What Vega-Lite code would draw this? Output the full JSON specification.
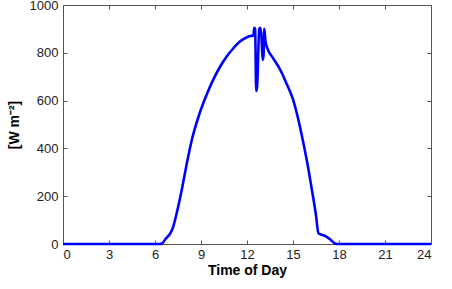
{
  "$schema": "https://vega.github.io/schema/vega-lite/v6.json",
  "width": 368,
  "height": 239,
  "autosize": {"type": "none"},
  "padding": {"left": 63, "top": 5, "right": 21, "bottom": 45},
  "background": "white",
  "config": {
    "view": {"stroke": "#555555", "strokeWidth": 1},
    "font": "Liberation Sans",
    "axis": {
      "grid": false,
      "domain": false,
      "tickColor": "#555555",
      "tickSize": -4,
      "labelFont": "Liberation Sans",
      "labelFontSize": 13,
      "labelColor": "#222222",
      "titleFont": "Liberation Sans",
      "titleFontSize": 14,
      "titleFontWeight": "bold",
      "titleColor": "#000000"
    }
  },
  "data": {
    "values": [
      {"t": 0, "w": 0}, {"t": 6.3, "w": 0}, {"t": 6.45, "w": 2}, {"t": 6.7, "w": 22},
      {"t": 7.0, "w": 45}, {"t": 7.15, "w": 65}, {"t": 7.4, "w": 125}, {"t": 7.75, "w": 228},
      {"t": 8.1, "w": 345}, {"t": 8.4, "w": 435}, {"t": 8.9, "w": 545}, {"t": 9.4, "w": 630},
      {"t": 9.8, "w": 688}, {"t": 10.3, "w": 748}, {"t": 10.7, "w": 787}, {"t": 11.1, "w": 818},
      {"t": 11.5, "w": 845}, {"t": 11.9, "w": 862}, {"t": 12.2, "w": 870}, {"t": 12.42, "w": 872},
      {"t": 12.47, "w": 905}, {"t": 12.53, "w": 900}, {"t": 12.6, "w": 640}, {"t": 12.66, "w": 660},
      {"t": 12.8, "w": 900}, {"t": 12.88, "w": 905}, {"t": 12.95, "w": 860}, {"t": 13.02, "w": 770},
      {"t": 13.08, "w": 790}, {"t": 13.13, "w": 900}, {"t": 13.2, "w": 850}, {"t": 13.35, "w": 815},
      {"t": 13.7, "w": 778}, {"t": 14.2, "w": 725}, {"t": 14.6, "w": 668}, {"t": 15.0, "w": 605},
      {"t": 15.35, "w": 520}, {"t": 15.7, "w": 415}, {"t": 16.0, "w": 315}, {"t": 16.25, "w": 220},
      {"t": 16.5, "w": 120}, {"t": 16.66, "w": 45}, {"t": 16.9, "w": 38}, {"t": 17.2, "w": 30},
      {"t": 17.5, "w": 15}, {"t": 17.75, "w": 2}, {"t": 17.9, "w": 0}, {"t": 24, "w": 0}
    ]
  },
  "layer": [
    {
      "mark": {"type": "line", "color": "#0000ff", "strokeWidth": 2.6, "strokeJoin": "round", "interpolate": "monotone", "clip": false},
      "encoding": {
        "x": {"field": "t", "type": "quantitative", "scale": {"domain": [0, 24], "nice": false},
              "axis": {"title": "Time of Day", "values": [0,3,6,9,12,15,18,21,24], "labelPadding": 8, "titlePadding": 2, "orient": "bottom"}},
        "y": {"field": "w", "type": "quantitative", "scale": {"domain": [0, 1000], "nice": false},
              "axis": {"title": "[W m⁻²]", "format": "d", "values": [0,200,400,600,800,1000], "labelPadding": 9, "titlePadding": 8, "orient": "left"}}
      }
    },
    {
      "mark": {"type": "line", "strokeOpacity": 0},
      "encoding": {
        "x": {"field": "t", "type": "quantitative", "axis": {"title": null, "labels": false, "values": [0,3,6,9,12,15,18,21,24], "orient": "top"}},
        "y": {"field": "w", "type": "quantitative", "axis": {"title": null, "labels": false, "values": [0,200,400,600,800,1000], "orient": "right"}}
      }
    }
  ],
  "resolve": {"axis": {"x": "independent", "y": "independent"}}
}
